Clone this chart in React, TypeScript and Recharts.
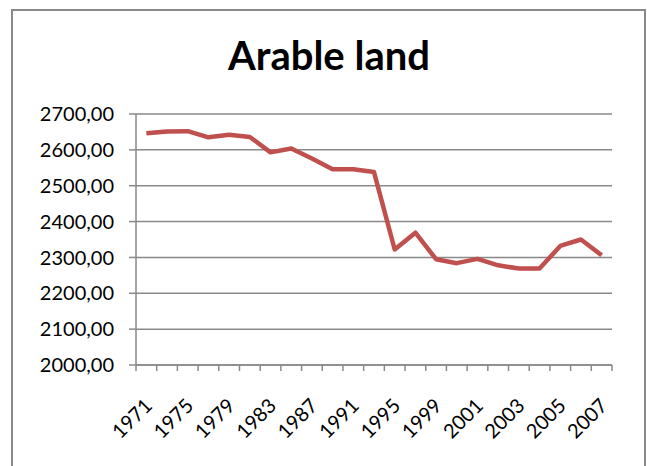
import { LineChart, Line, XAxis, YAxis, CartesianGrid } from 'recharts';

const years = [
  1971, 1973, 1975, 1977, 1979, 1981, 1983, 1985, 1987, 1989, 1991, 1993,
  1995, 1997, 1999, 2000, 2001, 2002, 2003, 2004, 2005, 2006, 2007,
];

const arableLand = [
  2646, 2651, 2652, 2635, 2642, 2636, 2593, 2604, 2576, 2546, 2546, 2538,
  2322, 2369, 2295, 2284, 2296, 2278, 2269, 2269, 2332, 2350, 2306,
];

const yTicks = [2000, 2100, 2200, 2300, 2400, 2500, 2600, 2700];

// years that get a label (every other category)
const labelYears = [1971, 1975, 1979, 1983, 1987, 1991, 1995, 1999, 2001, 2003, 2005, 2007];

const data = years.map((year, i) => ({ idx: i, year, value: arableLand[i] }));

// tick marks sit between categories (x.5), labels on the categories themselves
const boundaryTicks = years.map((_, i) => i - 0.5).concat([years.length - 0.5]);
const labelTicks = labelYears.map((y) => years.indexOf(y));
const xTicks = [...boundaryTicks, ...labelTicks].sort((a, b) => a - b);

const axisColor = '#898989';
const font = 'Lato, "Open Sans", sans-serif';

const XTick = ({ x, y, payload }: any) => {
  const v = payload.value;
  if (!Number.isInteger(v)) {
    return <line x1={x} x2={x} y1={y} y2={y + 6} stroke={axisColor} strokeWidth={1.5} />;
  }
  const ax = x + 7;
  const ay = y + 42;
  return (
    <text
      x={ax}
      y={ay}
      transform={`rotate(-45 ${ax} ${ay})`}
      textAnchor="end"
      fontSize={20}
      fontFamily={font}
      fill="#000"
    >
      {years[v]}
    </text>
  );
};

export default function App() {
  return (
    <div style={{ position: 'absolute', left: 0, top: 0, width: 647, height: 466, overflow: 'hidden', background: '#fff' }}>
      <div
        style={{
          position: 'absolute',
          left: 11,
          top: 9,
          width: 631,
          height: 480,
          border: `2px solid ${axisColor}`,
        }}
      />
      <div
        style={{
          position: 'absolute',
          left: 0,
          width: 658,
          top: 31,
          textAlign: 'center',
          fontFamily: font,
          fontWeight: 700,
          fontSize: 40,
          lineHeight: '48px',
          color: '#000',
        }}
      >
        Arable land
      </div>
      <div style={{ position: 'absolute', left: 0, top: 0 }}>
        <LineChart
          width={647}
          height={466}
          data={data}
          margin={{ top: 114, right: 35, left: 76, bottom: 41 }}
        >
          <CartesianGrid vertical={false} stroke={axisColor} strokeWidth={1.5} />
          <XAxis
            dataKey="idx"
            type="number"
            domain={[-0.5, years.length - 0.5]}
            ticks={xTicks}
            tick={<XTick />}
            interval={0}
            tickLine={false}
            tickSize={0}
            tickMargin={0}
            height={60}
            stroke={axisColor}
            strokeWidth={1.5}
          />
          <YAxis
            domain={[2000, 2700]}
            ticks={yTicks}
            interval={0}
            width={60}
            tickSize={7}
            tickMargin={15}
            stroke={axisColor}
            strokeWidth={1.5}
            tick={{ fill: '#000', fontSize: 20, fontFamily: font }}
            tickFormatter={(v: number) => v.toFixed(2).replace('.', ',')}
          />
          <Line
            dataKey="value"
            stroke="#c0504d"
            strokeWidth={4.5}
            strokeLinejoin="round"
            dot={false}
            isAnimationActive={false}
          />
        </LineChart>
      </div>
    </div>
  );
}
